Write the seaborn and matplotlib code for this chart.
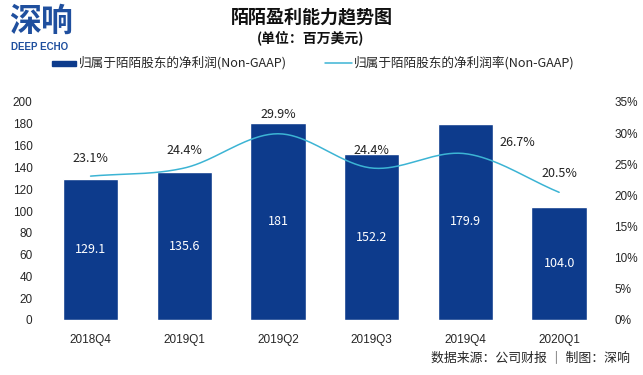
import numpy as np
import pandas as pd
import matplotlib
matplotlib.use("Agg")
import matplotlib.pyplot as plt
import seaborn as sns
from matplotlib.patches import Rectangle
from matplotlib.lines import Line2D

quarters = ["2018Q4", "2019Q1", "2019Q2", "2019Q3", "2019Q4", "2020Q1"]
profit = [129.1, 135.6, 181, 152.2, 179.9, 104.0]
profit_labels = ["129.1", "135.6", "181", "152.2", "179.9", "104.0"]
margin = [23.1, 24.4, 29.9, 24.4, 26.7, 20.5]
left_ticks = [0, 20, 40, 60, 80, 100, 120, 140, 160, 180, 200]
right_ticks = [0, 5, 10, 15, 20, 25, 30, 35]

title = "陌陌盈利能力趋势图"
subtitle = "(单位：百万美元)"
legend_bar = "归属于陌陌股东的净利润(Non-GAAP)"
legend_line = "归属于陌陌股东的净利润率(Non-GAAP)"
footer = "数据来源：公司财报 ｜ 制图：深响"

BAR = "#0d3b8c"
LINE = "#3cb4d4"
LOGO = "#1f4f9e"

sns.set_style("white")
plt.rcParams["font.family"] = ["Noto Sans CJK SC", "DejaVu Sans"]

W, H = 643, 375
fig = plt.figure(figsize=(W / 100, H / 100), dpi=100)
x0, x1, yb, yt = 43.7, 606, 320, 102
ax = fig.add_axes([x0 / W, 1 - yb / H, (x1 - x0) / W, (yb - yt) / H])

df = pd.DataFrame({"quarter": quarters, "profit": profit, "margin": margin})
sns.barplot(data=df, x="quarter", y="profit", color=BAR, width=0.59,
            saturation=1, ax=ax)
ax.set_ylim(0, 200)
ax.set_xlim(-0.5, len(quarters) - 0.5)
ax.set_yticks(left_ticks)
ax.set_xlabel("")
ax.set_ylabel("")
for s in ax.spines.values():
    s.set_visible(False)
ax.tick_params(axis="both", length=0, labelsize=8.5)
ax.tick_params(axis="y", pad=8)
ax.tick_params(axis="x", pad=10)
for lab in ax.get_yticklabels() + ax.get_xticklabels():
    lab.set_fontfamily(["Liberation Sans", "DejaVu Sans"])

for i, (v, t) in enumerate(zip(profit, profit_labels)):
    ax.text(i, v / 2, t, ha="center", va="center", color="white", fontsize=9)

ax2 = ax.twinx()
ax2.set_ylim(0, 35)
ax2.set_yticks(right_ticks)
ax2.set_yticklabels([f"{t}%" for t in right_ticks])
for s in ax2.spines.values():
    s.set_visible(False)
ax2.tick_params(axis="y", length=0, labelsize=8.5, pad=6)
for lab in ax2.get_yticklabels():
    lab.set_fontfamily(["Liberation Sans", "DejaVu Sans"])


def catmull_rom(xs, ys, n=40):
    xs = np.asarray(xs, float)
    ys = np.asarray(ys, float)
    px = np.concatenate([[2 * xs[0] - xs[1]], xs, [2 * xs[-1] - xs[-2]]])
    py = np.concatenate([[2 * ys[0] - ys[1]], ys, [2 * ys[-1] - ys[-2]]])
    out_x, out_y = [], []
    for i in range(1, len(px) - 2):
        t = np.linspace(0, 1, n, endpoint=(i == len(px) - 3))
        for p, out in ((px, out_x), (py, out_y)):
            p0, p1, p2, p3 = p[i - 1], p[i], p[i + 1], p[i + 2]
            out.extend(0.5 * ((2 * p1) + (-p0 + p2) * t
                              + (2 * p0 - 5 * p1 + 4 * p2 - p3) * t ** 2
                              + (-p0 + 3 * p1 - 3 * p2 + p3) * t ** 3))
    return np.array(out_x), np.array(out_y)


sx, sy = catmull_rom(np.arange(len(margin)), margin)
ax2.plot(sx, sy, color=LINE, lw=1.1)

offsets = [(0, 18), (0, 18), (0, 19), (0, 18), (52, 11), (0, 19)]
for i, (m, (dx, dy)) in enumerate(zip(margin, offsets)):
    ax2.annotate(f"{m}%", (i, m), xytext=(dx * 0.72, dy * 0.72),
                 textcoords="offset points", ha="center", va="center",
                 fontsize=9, color="#222222")

# Title & subtitle
fig.text(312 / W, 1 - 17 / H, title, ha="center", va="center",
         fontsize=13, fontweight="bold", color="#111111")
fig.text(311 / W, 1 - 38 / H, subtitle, ha="center", va="center",
         fontsize=10, fontweight="bold", color="#111111")

# Logo
fig.text(9 / W, 1 - 22 / H, "深响", ha="left", va="center", fontsize=23,
         fontweight="bold", color=LOGO)
fig.text(11 / W, 1 - 47 / H, "DEEP ECHO", ha="left", va="center",
         fontsize=7, fontweight="bold", color=LOGO,
         family=["Liberation Sans", "DejaVu Sans"])

# Legend
ly = 1 - 63 / H
fig.patches.append(Rectangle((52 / W, ly - 2.5 / H), 24 / W, 5 / H,
                             transform=fig.transFigure, color=BAR))
fig.text(79 / W, ly, legend_bar, ha="left", va="center", fontsize=9.1)
fig.lines.append(Line2D([325 / W, 352 / W], [ly, ly], transform=fig.transFigure,
                        color=LINE, lw=1.1))
fig.text(354 / W, ly, legend_line, ha="left", va="center", fontsize=9.1)

# Footer
fig.text(630 / W, 1 - 358 / H, footer, ha="right", va="center", fontsize=9.3)

fig.savefig("out.png", dpi=100)
